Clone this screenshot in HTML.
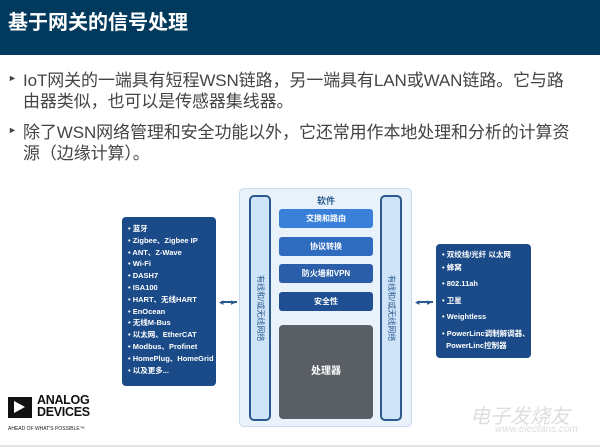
<!DOCTYPE html>
<html><head><meta charset="utf-8"><style>
*{margin:0;padding:0;box-sizing:border-box}
body{width:600px;height:447px;background:#fff;position:relative;overflow:hidden;font-family:"Liberation Sans","Noto Sans CJK SC",sans-serif}
.a{position:absolute}
.hdr{left:0;top:0;width:600px;height:55px;background:#023a5e}
.title{left:8px;top:6px;color:#fff;font-size:20px;font-weight:bold}
.p{left:23px;font-size:17px;color:#444;line-height:21px;width:575px;letter-spacing:-0.1px}
.bl{left:8px;font-size:9px;color:#444}
.lbox{background:#1a4a87;border-radius:4px;color:#fff;font-size:7.5px;font-weight:bold;padding:6px 0 0 6px;line-height:11.8px}
.sbox{left:279px;width:94px;height:19px;border-radius:3px;color:#fff;font-size:8px;font-weight:bold;text-align:center;line-height:19px}
.vbar{width:22px;top:195px;height:226px;background:#cfe4f8;border:2px solid #2a5a8e;border-radius:5px;color:#2a5a8e;font-size:8px;writing-mode:vertical-rl;text-orientation:sideways;text-align:center;line-height:18px}
.arr{height:2px;background:#2a5a8e;width:16px}
</style></head><body>
<div class="a hdr"></div>
<div class="a title">基于网关的信号处理</div>
<div class="a bl" style="top:73px">►</div>
<div class="a p" style="top:70px">IoT网关的一端具有短程WSN链路，另一端具有LAN或WAN链路。它与路<br>由器类似，也可以是传感器集线器。</div>
<div class="a bl" style="top:125px">►</div>
<div class="a p" style="top:122px">除了WSN网络管理和安全功能以外，它还常用作本地处理和分析的计算资<br>源（边缘计算）。</div>

<div class="a lbox" style="left:122px;top:217px;width:94px;height:169px">• 蓝牙<br>• Zigbee、Zigbee IP<br>• ANT、Z-Wave<br>• Wi-Fi<br>• DASH7<br>• ISA100<br>• HART、无线HART<br>• EnOcean<br>• 无线M-Bus<br>• 以太网、EtherCAT<br>• Modbus、Profinet<br>• HomePlug、HomeGrid<br>• 以及更多...</div>

<div class="a" style="left:239px;top:188px;width:173px;height:239px;background:#e9f1fb;border:1px solid #c9dbef;border-radius:5px"></div>
<div class="a vbar" style="left:249px">有线和/或无线网络</div>
<div class="a vbar" style="left:380px">有线和/或无线网络</div>
<div class="a" style="left:279px;top:194px;width:94px;text-align:center;font-size:9px;font-weight:bold;color:#2a5a8e">软件</div>
<div class="a sbox" style="top:209px;background:#3a80d8">交换和路由</div>
<div class="a sbox" style="top:237px;background:#2f6cc0">协议转换</div>
<div class="a sbox" style="top:264px;background:#2a5ea8">防火墙和VPN</div>
<div class="a sbox" style="top:292px;background:#1f4f92">安全性</div>
<div class="a" style="left:279px;top:325px;width:94px;height:94px;background:#5a5f66;border-radius:4px;color:#fff;font-size:10px;font-weight:bold;text-align:center;line-height:94px">处理器</div>

<div class="a arr" style="left:221px;top:301px"></div>
<div class="a" style="left:219px;top:298px;color:#2a5a8e;font-size:9px;line-height:8px">◂</div>
<div class="a" style="left:231px;top:298px;color:#2a5a8e;font-size:9px;line-height:8px">▸</div>
<div class="a arr" style="left:417px;top:301px"></div>
<div class="a" style="left:415px;top:298px;color:#2a5a8e;font-size:9px;line-height:8px">◂</div>
<div class="a" style="left:427px;top:298px;color:#2a5a8e;font-size:9px;line-height:8px">▸</div>

<div class="a lbox" style="left:436px;top:244px;width:95px;height:114px;padding-top:5px;line-height:12.5px">• 双绞线/光纤 以太网<br>• 蜂窝<br><div style="height:4px"></div>• 802.11ah<br><div style="height:4px"></div>• 卫星<br><div style="height:4px"></div>• Weightless<br><div style="height:4px"></div>• PowerLinc调制解调器、<br>&nbsp;&nbsp;PowerLinc控制器<br><div style="height:4px"></div>• 以及更多...</div>

<div class="a" style="left:8px;top:397px;width:24px;height:21px;background:#111"></div>
<div class="a" style="left:14px;top:401px;width:0;height:0;border-top:6.5px solid transparent;border-bottom:6.5px solid transparent;border-left:11px solid #fff"></div>
<div class="a" style="left:37px;top:394px;font-size:12.5px;font-weight:bold;color:#111;line-height:12px;letter-spacing:-0.3px">ANALOG<br>DEVICES</div>
<div class="a" style="left:8px;top:426px;font-size:5px;color:#222">AHEAD OF WHAT'S POSSIBLE™</div>
<div class="a" style="left:470px;top:400px;font-size:20px;color:#ddd;font-style:italic">电子发烧友</div>
<div class="a" style="left:495px;top:424px;font-size:10px;color:#ddd;font-style:italic">www.elecfans.com</div>
<div class="a" style="left:0;top:445px;width:600px;height:2px;background:#e4e4e4"></div>
</body></html>
